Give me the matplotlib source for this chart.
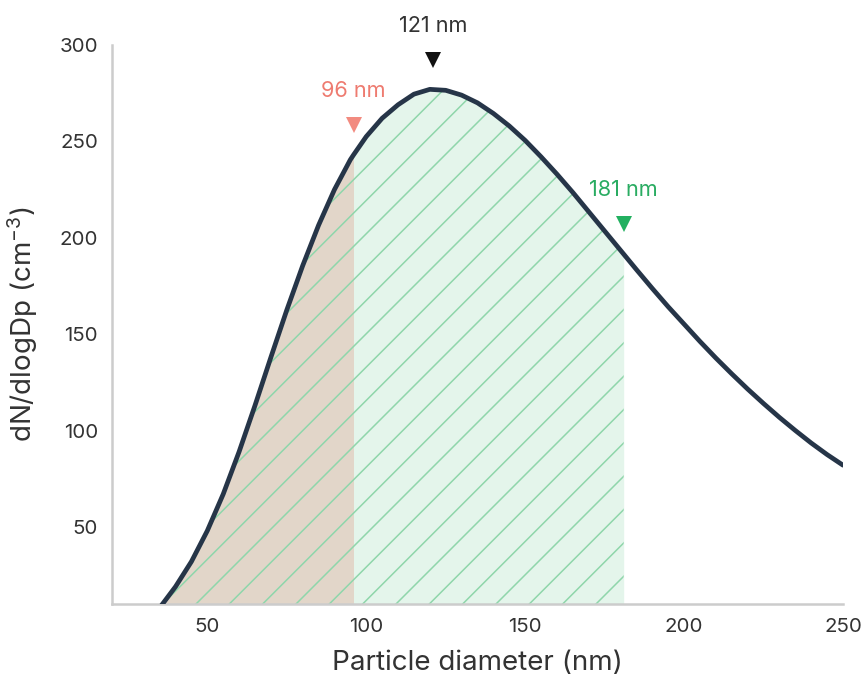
import numpy as np
import matplotlib
matplotlib.use("Agg")
import matplotlib.pyplot as plt
from matplotlib.transforms import ScaledTranslation

plt.rcParams['font.family'] = ['Inter', 'DejaVu Sans']
plt.rcParams['mathtext.fontset'] = 'custom'
plt.rcParams['mathtext.rm'] = 'Inter'
plt.rcParams['mathtext.it'] = 'Inter'
plt.rcParams['hatch.linewidth'] = 0.55

# particle size distribution
diameter = [35, 40, 45, 50, 55, 60, 65, 70, 75, 80, 85, 90, 95, 96, 100, 105, 110,
            115, 120, 125, 130, 135, 140, 145, 150, 155, 160, 165, 170, 175, 180,
            181, 185, 190, 195, 200, 205, 210, 215, 220, 225, 230, 235, 240, 245, 250]
dndlogdp = [8, 19, 32, 48, 67, 89, 113, 138, 162.5, 185.5, 206.5, 225, 240.5, 243,
            252.5, 262, 269, 274.5, 277, 276.5, 274, 270, 264.5, 258, 250.5, 242,
            233, 223.5, 213.5, 203.5, 193.5, 191.5, 183.5, 173.7, 164.2, 155.2,
            146.2, 137.6, 129.4, 121.5, 114, 106.8, 100, 93.5, 87.5, 82]

# marked diameters
mark_x = [121, 96, 181]
mark_labels = ['121 nm', '96 nm', '181 nm']
mark_colors = ['#111111', '#f28b80', '#22b060']
text_colors = ['#333333', '#ee7b70', '#2aac62']

x = np.array(diameter, dtype=float)
y = np.array(dndlogdp, dtype=float)

fig = plt.figure(figsize=(4.32, 3.395), dpi=200)
ax = fig.add_axes([0.1296, 0.1105, 0.8461, 0.8232])

lo = x <= 96
mid = (x >= 96) & (x <= 181)
ax.fill_between(x[lo], 0, y[lo], color='#e2d6c9', linewidth=0, zorder=1)
ax.fill_between(x[mid], 0, y[mid], color='#e4f5eb', linewidth=0, zorder=1)
hatch_zone = x <= 181
ax.fill_between(x[hatch_zone], 0, y[hatch_zone], facecolor='none',
                edgecolor='#8fd6ab', linewidth=0, hatch='//', zorder=2)

ax.plot(x, y, color='#263548', linewidth=1.7, solid_joinstyle='round',
        solid_capstyle='round', zorder=3)

for mx, lab, mc, tc in zip(mark_x, mark_labels, mark_colors, text_colors):
    y0 = np.interp(mx, x, y)
    shift = ScaledTranslation(0, 10.8 / 72, fig.dpi_scale_trans)
    ax.plot([mx], [y0], linestyle='none', marker='v', markersize=6,
            color=mc, markeredgewidth=0, clip_on=False, zorder=4,
            transform=ax.transData + shift)
    ax.annotate(lab, xy=(mx, y0), xytext=(0, 23), textcoords='offset points',
                ha='center', va='center', fontsize=7.8, color=tc,
                annotation_clip=False)

ax.set_xlim(20, 250)
ax.set_ylim(10, 300)
ax.set_xticks([50, 100, 150, 200, 250])
ax.set_yticks([50, 100, 150, 200, 250, 300])

for side in ['top', 'right']:
    ax.spines[side].set_visible(False)
for side in ['left', 'bottom']:
    ax.spines[side].set_color('#cccccc')
    ax.spines[side].set_linewidth(0.9)

ax.tick_params(length=0, labelsize=7.4, labelcolor='#333333', pad=5)
ax.set_xlabel('Particle diameter (nm)', fontsize=10, color='#333333', labelpad=5)
ax.set_ylabel(r'dN/dlogDp (cm$^{-3}$)', fontsize=10, color='#333333', labelpad=7)

fig.savefig('out.png', dpi=200)
